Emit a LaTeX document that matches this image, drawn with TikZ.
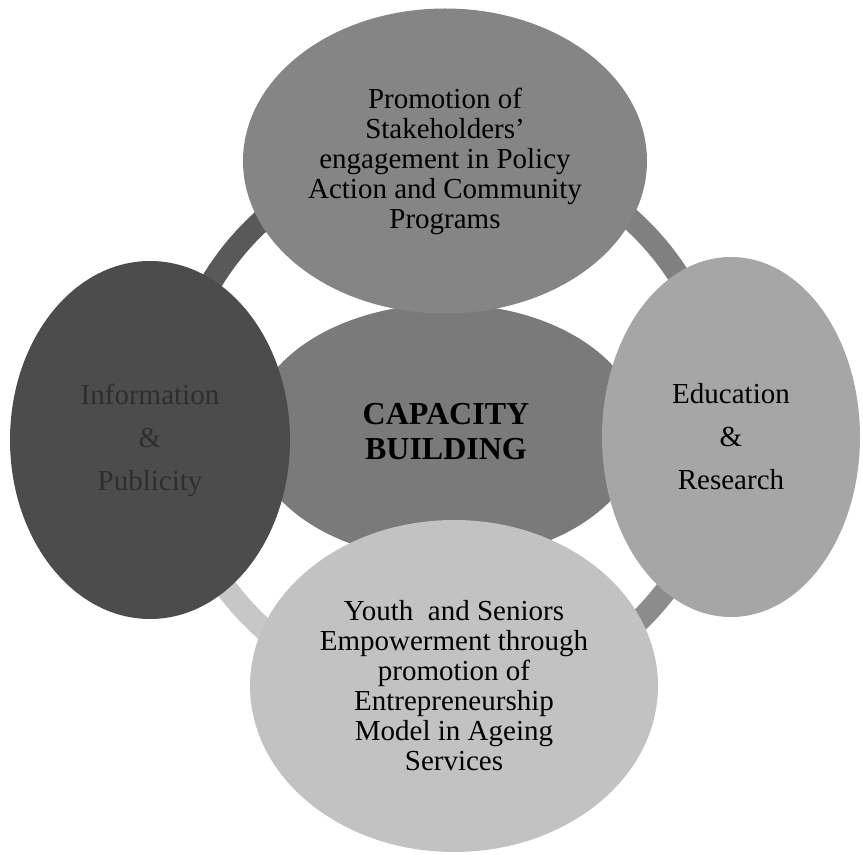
\documentclass[tikz,border=0pt]{standalone}
\usepackage{fontspec}
\setmainfont{Liberation Serif}
\usetikzlibrary{shapes.geometric}

\begin{document}
\begin{tikzpicture}[x=0.5pt,y=-0.5pt,
	oval/.style={ellipse,inner sep=0,outer sep=0,align=center,
		font=\fontsize{14.5}{15}\selectfont},
	sideoval/.style={oval,font=\fontsize{14.5}{21.5}\selectfont}]
\useasboundingbox (0,0) rectangle (863,855);
%%%  ring behind the ovals
\coordinate (ring) at (447,424);
\foreach \a/\c in {180/65,270/50,0/45,90/22}{%
	\pgfmathtruncatemacro\b{\a+90}
	\draw[line width=11pt,black!\c] (ring) ++(\a:275) arc[start angle=\a,end angle=\b,radius=275];}

%%%%%%%%% ovals %%%%%%%%
\node[oval,fill=black!52,minimum width=195pt,minimum height=128pt,
	font=\bfseries\fontsize{16}{17.5}\selectfont] (capacity) at (446,432) {CAPACITY\\BUILDING};
\node[oval,fill=black!48,minimum width=202pt,minimum height=152.5pt] (promotion) at (445,161)
	{Promotion of\\Stakeholders'\\engagement in Policy\\Action and Community\\Programs};
\node[sideoval,fill=black!70,text=black!82,minimum width=140pt,minimum height=179pt] (info) at (150,440)
	{Information\\\&\\Publicity};
\node[sideoval,fill=black!35,minimum width=129pt,minimum height=180pt] (education) at (731,437)
	{Education\\\&\\Research};
\node[oval,fill=black!24,minimum width=204pt,minimum height=166pt] (youth) at (454,686)
	{Youth\ \ and Seniors\\Empowerment through\\promotion of\\Entrepreneurship\\Model in Ageing\\Services};

\end{tikzpicture}
\end{document}
